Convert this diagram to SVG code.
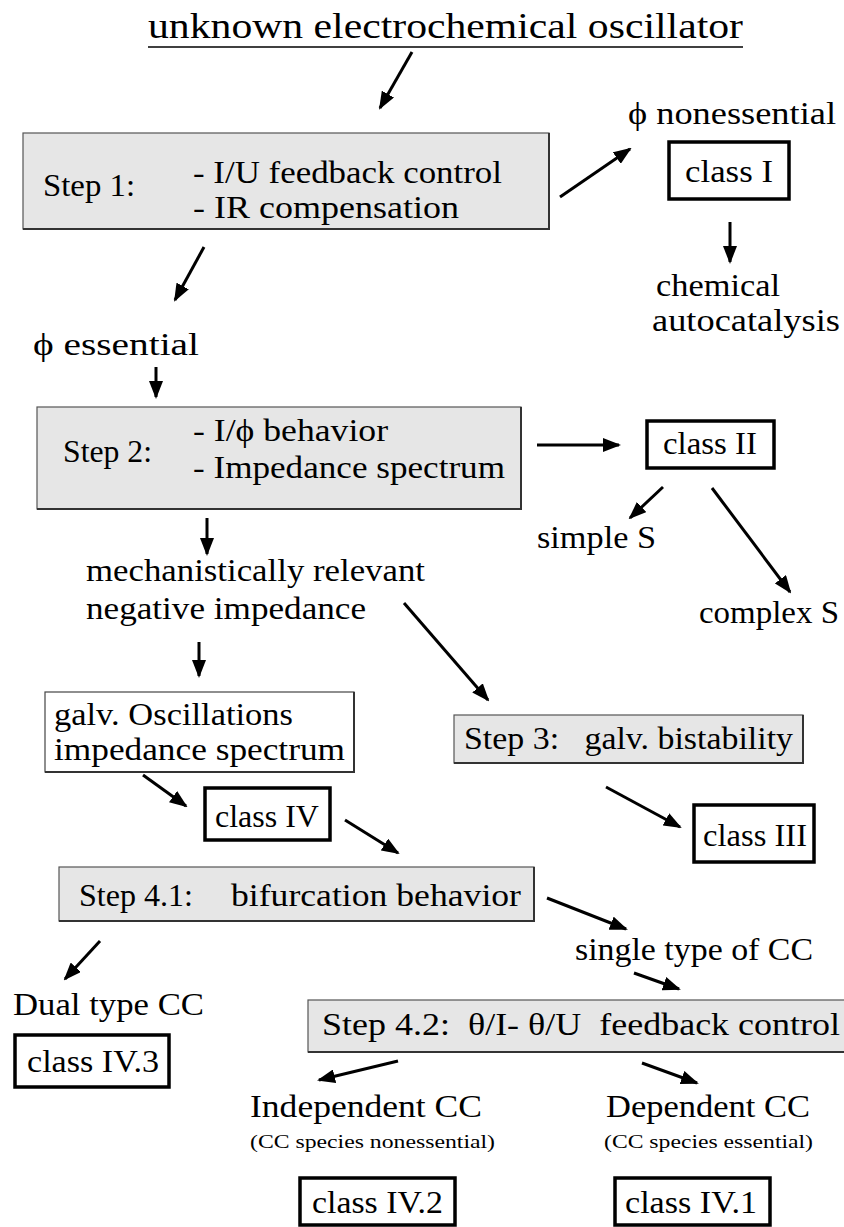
<svg xmlns="http://www.w3.org/2000/svg" width="844" height="1227" viewBox="0 0 844 1227">
<style>
text{font-family:"Liberation Serif","Times New Roman",serif;fill:#000;font-size:31px}
.t{font-size:36px}
.s{font-size:18px}
.gray{fill:#e6e6e6;stroke:#555;stroke-width:1.2}
.white{fill:#fff;stroke:#444;stroke-width:1.2}
.sh{fill:none;stroke:#333;stroke-width:2}
.cls{fill:#fff;stroke:#000;stroke-width:3.5}
.c line{stroke:#000;stroke-width:3;marker-end:url(#ah)}
</style>
<defs>
<marker id="ah" markerUnits="userSpaceOnUse" markerWidth="18" markerHeight="14" refX="16" refY="7" orient="auto"><path d="M0,0 L18,7 L0,14 z" fill="#000"/></marker>
</defs>
<rect width="844" height="1227" fill="#fff"/>
<g id="title">
<text class="t" x="148" y="38" textLength="595" lengthAdjust="spacingAndGlyphs">unknown electrochemical oscillator</text>
<line x1="148" y1="47" x2="743" y2="47" stroke="#000" stroke-width="1.5"/>
</g>
<g id="step1">
<rect class="gray" x="23" y="133" width="526" height="96"/>
<path class="sh" d="M23,229 H549 V133"/>
<text x="43" y="196" textLength="92" lengthAdjust="spacingAndGlyphs">Step 1:</text>
<text x="193" y="183" textLength="309" lengthAdjust="spacingAndGlyphs">- I/U feedback control</text>
<text x="193" y="218" textLength="266" lengthAdjust="spacingAndGlyphs">- IR compensation</text>
</g>
<g id="phi-nonessential"><text x="628" y="124" textLength="208" lengthAdjust="spacingAndGlyphs">ϕ nonessential</text></g>
<g id="class1">
<rect class="cls" x="669" y="142" width="120" height="57"/>
<text x="685" y="182" textLength="88" lengthAdjust="spacingAndGlyphs">class I</text>
</g>
<g id="chem">
<text x="656" y="296" textLength="124" lengthAdjust="spacingAndGlyphs">chemical</text>
<text x="652" y="331" textLength="188" lengthAdjust="spacingAndGlyphs">autocatalysis</text>
</g>
<g id="phi-essential"><text x="33" y="355" textLength="166" lengthAdjust="spacingAndGlyphs">ϕ essential</text></g>
<g id="step2">
<rect class="gray" x="37" y="407" width="484" height="102"/>
<path class="sh" d="M37,509 H521 V407"/>
<text x="193" y="441" textLength="195" lengthAdjust="spacingAndGlyphs">- I/ϕ behavior</text>
<text x="63" y="462" textLength="89" lengthAdjust="spacingAndGlyphs">Step 2:</text>
<text x="193" y="478" textLength="312" lengthAdjust="spacingAndGlyphs">- Impedance spectrum</text>
</g>
<g id="class2">
<rect class="cls" x="647" y="421" width="127" height="47"/>
<text x="663" y="454" textLength="94" lengthAdjust="spacingAndGlyphs">class II</text>
</g>
<g id="simpleS"><text x="537" y="548" textLength="119" lengthAdjust="spacingAndGlyphs">simple S</text></g>
<g id="complexS"><text x="699" y="623" textLength="140" lengthAdjust="spacingAndGlyphs">complex S</text></g>
<g id="negimp">
<text x="86" y="581" textLength="339" lengthAdjust="spacingAndGlyphs">mechanistically relevant</text>
<text x="86" y="619" textLength="280" lengthAdjust="spacingAndGlyphs">negative impedance</text>
</g>
<g id="galv">
<rect class="white" x="45" y="692" width="309" height="80"/>
<path class="sh" d="M45,772 H354 V692"/>
<text x="54" y="725" textLength="239" lengthAdjust="spacingAndGlyphs">galv. Oscillations</text>
<text x="54" y="760" textLength="291" lengthAdjust="spacingAndGlyphs">impedance spectrum</text>
</g>
<g id="step3">
<rect class="gray" x="454" y="715" width="349" height="48"/>
<path class="sh" d="M454,763 H803 V715"/>
<text x="464" y="749" textLength="329" lengthAdjust="spacingAndGlyphs" xml:space="preserve">Step 3:   galv. bistability</text>
</g>
<g id="class4">
<rect class="cls" x="205" y="788" width="125" height="52"/>
<text x="215" y="827" textLength="104" lengthAdjust="spacingAndGlyphs">class IV</text>
</g>
<g id="class3">
<rect class="cls" x="694" y="805" width="120" height="57"/>
<text x="703" y="846" textLength="104" lengthAdjust="spacingAndGlyphs">class III</text>
</g>
<g id="step41">
<rect class="gray" x="59" y="867" width="475" height="54"/>
<path class="sh" d="M59,921 H534 V867"/>
<text x="79" y="906" textLength="114" lengthAdjust="spacingAndGlyphs">Step 4.1:</text>
<text x="231" y="906" textLength="290" lengthAdjust="spacingAndGlyphs">bifurcation behavior</text>
</g>
<g id="single"><text x="575" y="960" textLength="238" lengthAdjust="spacingAndGlyphs">single type of CC</text></g>
<g id="dual"><text x="13" y="1015" textLength="191" lengthAdjust="spacingAndGlyphs">Dual type CC</text></g>
<g id="class43">
<rect class="cls" x="15" y="1035" width="154" height="52"/>
<text x="27" y="1072" textLength="132" lengthAdjust="spacingAndGlyphs">class IV.3</text>
</g>
<g id="step42">
<rect class="gray" x="308" y="1000" width="545" height="52"/>
<path class="sh" d="M308,1052 H853"/>
<text x="322" y="1035" textLength="518" lengthAdjust="spacingAndGlyphs" xml:space="preserve">Step 4.2:  θ/I- θ/U  feedback control</text>
</g>
<g id="indep">
<text x="250" y="1117" textLength="232" lengthAdjust="spacingAndGlyphs">Independent CC</text>
<text class="s" x="250" y="1148" textLength="245" lengthAdjust="spacingAndGlyphs">(CC species nonessential)</text>
</g>
<g id="dep">
<text x="606" y="1117" textLength="204" lengthAdjust="spacingAndGlyphs">Dependent CC</text>
<text class="s" x="604" y="1148" textLength="209" lengthAdjust="spacingAndGlyphs">(CC species essential)</text>
</g>
<g id="class42">
<rect class="cls" x="300" y="1178" width="155" height="47"/>
<text x="312" y="1213" textLength="131" lengthAdjust="spacingAndGlyphs">class IV.2</text>
</g>
<g id="class41">
<rect class="cls" x="615" y="1178" width="155" height="47"/>
<text x="625" y="1213" textLength="132" lengthAdjust="spacingAndGlyphs">class IV.1</text>
</g>
<g id="connectors" class="c">
<line x1="412" y1="52" x2="380" y2="108"/>
<line x1="560" y1="197" x2="630" y2="149"/>
<line x1="730" y1="222" x2="730" y2="262"/>
<line x1="204" y1="247" x2="175" y2="300"/>
<line x1="156" y1="367" x2="156" y2="397"/>
<line x1="537" y1="445" x2="619" y2="445"/>
<line x1="663" y1="487" x2="630" y2="518"/>
<line x1="712" y1="488" x2="790" y2="592"/>
<line x1="207" y1="518" x2="207" y2="554"/>
<line x1="404" y1="603" x2="488" y2="700"/>
<line x1="199" y1="642" x2="199" y2="676"/>
<line x1="143" y1="775" x2="186" y2="806"/>
<line x1="345" y1="820" x2="398" y2="853"/>
<line x1="606" y1="787" x2="680" y2="827"/>
<line x1="547" y1="898" x2="626" y2="929"/>
<line x1="100" y1="941" x2="65" y2="979"/>
<line x1="634" y1="973" x2="679" y2="989"/>
<line x1="398" y1="1061" x2="319" y2="1080"/>
<line x1="642" y1="1063" x2="697" y2="1083"/>
</g>
</svg>
